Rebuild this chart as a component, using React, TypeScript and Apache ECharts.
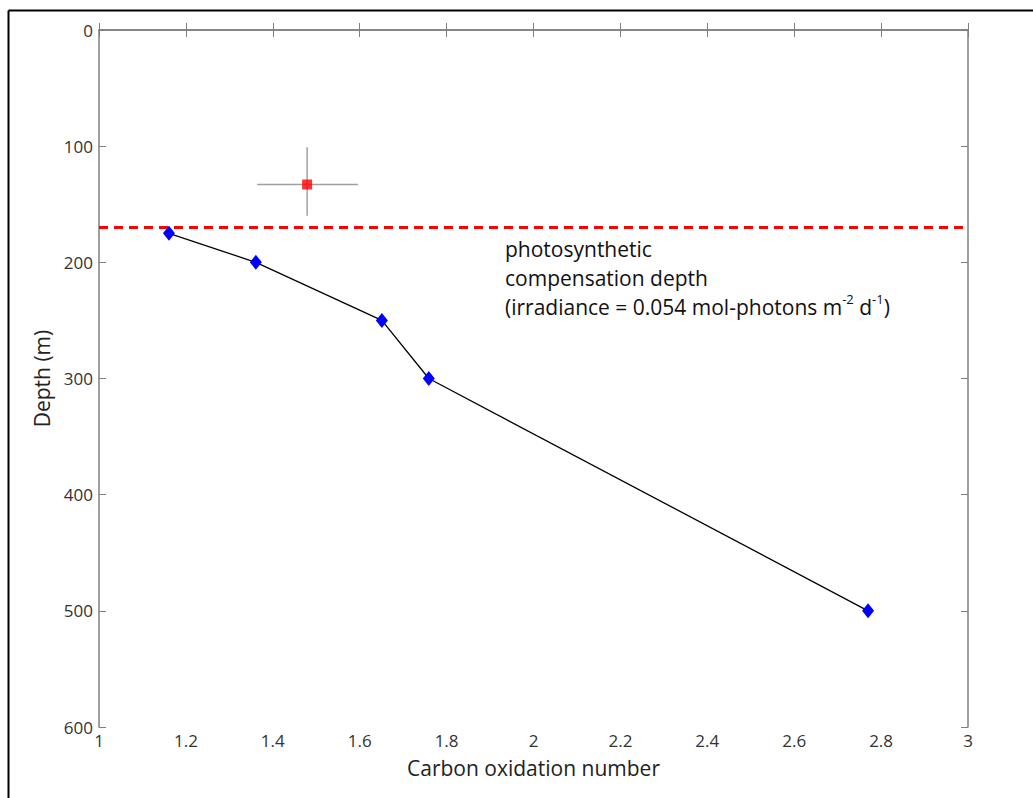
import React, { useEffect, useRef } from "react";
import * as echarts from "echarts";

const oxidation = [1.161, 1.361, 1.651, 1.759, 2.77];
const depth = [175, 200, 250, 300, 500];
const refPoint = [1.479, 133];
const refXErr = [1.364, 1.596];
const refYErr = [101, 160];
const compDepth = 170;
const xRange = [1, 3];

const FONT = "'Open Sans', 'Noto Sans', sans-serif";

export default function App() {
  const ref = useRef<HTMLDivElement>(null);
  useEffect(() => {
    const chart = echarts.init(ref.current!, null, { renderer: "svg" });
    const axisLine = { show: true, lineStyle: { color: "#7f7f7f", width: 1.5 } };
    const axisTick = { show: true, inside: true, length: 7, lineStyle: { color: "#7f7f7f", width: 1 } };
    chart.setOption({
      animation: false,
      backgroundColor: "#fff",
      grid: { left: 99, right: 65, top: 30, bottom: 71 },
      xAxis: [
        {
          type: "value", min: 1, max: 3, interval: 0.2, position: "bottom",
          axisLine, axisTick, splitLine: { show: false },
          axisLabel: { color: "#333", fontSize: 17, fontFamily: FONT, margin: 5 },
          name: "Carbon oxidation number", nameLocation: "middle", nameGap: 30,
          nameTextStyle: { color: "#222", fontSize: 21, fontFamily: FONT },
        },
        {
          type: "value", min: 1, max: 3, interval: 0.2, position: "top",
          axisLine, axisTick, splitLine: { show: false }, axisLabel: { show: false },
        },
      ],
      yAxis: [
        {
          type: "value", min: 0, max: 600, interval: 100, inverse: true, position: "left",
          axisLine, axisTick, splitLine: { show: false },
          axisLabel: { color: "#333", fontSize: 17, fontFamily: FONT, margin: 6 },
          name: "Depth (m)", nameLocation: "middle", nameGap: 43, nameRotate: 90,
          nameTextStyle: { color: "#222", fontSize: 21, fontFamily: FONT },
        },
        {
          type: "value", min: 0, max: 600, interval: 100, inverse: true, position: "right",
          axisLine, axisTick, splitLine: { show: false }, axisLabel: { show: false },
        },
      ],
      series: [
        {
          type: "line",
          data: xRange.map((x) => [x, compDepth]),
          symbol: "none",
          lineStyle: { color: "#ff0000", width: 3, type: [9, 6] },
          z: 2,
        },
        {
          type: "line",
          data: refXErr.map((x) => [x, refPoint[1]]),
          symbol: "none",
          lineStyle: { color: "#a0a0a0", width: 1.5 },
        },
        {
          type: "line",
          data: refYErr.map((y) => [refPoint[0], y]),
          symbol: "none",
          lineStyle: { color: "#a0a0a0", width: 1.5 },
        },
        {
          type: "scatter",
          data: [refPoint],
          symbol: "rect",
          symbolSize: 10,
          itemStyle: { color: "#ff0000" },
          z: 5,
        },
        {
          type: "line",
          data: oxidation.map((x, i) => [x, depth[i]]),
          symbol: "diamond",
          symbolSize: [12, 15],
          showSymbol: true,
          itemStyle: { color: "#0000ff" },
          lineStyle: { color: "#000", width: 1.3 },
          z: 4,
        },
      ],
      graphic: [
        { type: "line", shape: { x1: 8.5, y1: 10.5, x2: 1033, y2: 10.5 }, style: { stroke: "#000", lineWidth: 2 } },
        { type: "line", shape: { x1: 8.5, y1: 10.5, x2: 8.5, y2: 798 }, style: { stroke: "#000", lineWidth: 2 } },
        {
          type: "text",
          left: 505,
          top: 234,
          style: {
            text: "photosynthetic\ncompensation depth\n(irradiance = 0.054 mol-photons m{sup|-2} d{sup|-1})",
            fill: "#111",
            fontSize: 21,
            fontFamily: FONT,
            lineHeight: 29,
            rich: {
              sup: { fontSize: 13, verticalAlign: "top", lineHeight: 22, fill: "#111", fontFamily: FONT },
            },
          },
        },
      ],
    });
    return () => chart.dispose();
  }, []);
  return <div ref={ref} style={{ width: 1033, height: 798, position: "absolute", left: 0, top: 0 }} />;
}
